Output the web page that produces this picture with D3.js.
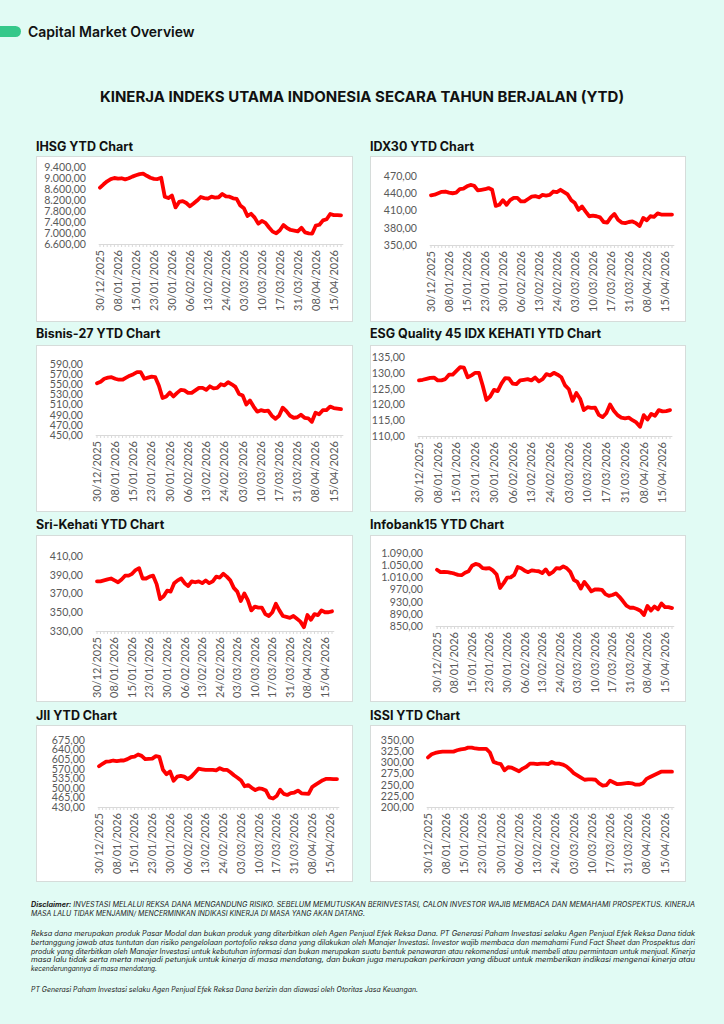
<!DOCTYPE html>
<html><head><meta charset="utf-8">
<script src="https://cdn.jsdelivr.net/npm/d3@7"></script>
<style>
html,body{margin:0;padding:0;background:#e1fbf4;}
svg{display:block}
</style></head><body>
<svg id="page" width="724" height="1024"></svg>
<script>
// ---------- DATA ----------
const dates = ["30/12/2025","02/01/2026","05/01/2026","06/01/2026","07/01/2026","08/01/2026","09/01/2026","12/01/2026","13/01/2026","14/01/2026",
"15/01/2026","19/01/2026","20/01/2026","21/01/2026","22/01/2026","23/01/2026","26/01/2026","27/01/2026","28/01/2026","29/01/2026",
"30/01/2026","02/02/2026","03/02/2026","04/02/2026","05/02/2026","06/02/2026","09/02/2026","10/02/2026","11/02/2026","12/02/2026",
"13/02/2026","18/02/2026","19/02/2026","20/02/2026","23/02/2026","24/02/2026","25/02/2026","26/02/2026","27/02/2026","02/03/2026",
"03/03/2026","04/03/2026","05/03/2026","06/03/2026","09/03/2026","10/03/2026","11/03/2026","12/03/2026","13/03/2026","16/03/2026",
"17/03/2026","25/03/2026","26/03/2026","27/03/2026","30/03/2026","31/03/2026","01/04/2026","02/04/2026","06/04/2026","07/04/2026",
"08/04/2026","09/04/2026","10/04/2026","13/04/2026","14/04/2026","15/04/2026","16/04/2026","17/04/2026"];

const ihsg = [8650,8770,8880,8960,9000,8980,8990,8950,8990,9050,9100,9140,9160,9080,9010,8970,8960,9010,8320,8270,
8360,7930,8130,8160,8090,7970,8070,8180,8310,8270,8250,8320,8290,8300,8420,8330,8320,8260,8240,8000,
7900,7620,7700,7560,7340,7440,7370,7200,7050,6990,7100,7290,7180,7110,7090,7060,7190,7020,6990,6980,
7270,7300,7460,7500,7690,7650,7650,7640];
const idx30 = [436.5,437.5,440,442.5,443,441,440,441,447,448,452,454.5,453,445,446,447,449,446,418,420,
428,420,428,432,432,426,426,430,434,435,433,437,436,437,443,442,446,442,438,428,
423,411,417,408,400,401,400,398,390,389,398,404,394,389,388,390,391,388,383,397,
393,400,399,405,403,403,403,403];
const bisnis27 = [552,555,561,563,564,561,559,559,563,567,570,574,574,561,563,565,564,547,523,526,
534,526,533,539,538,533,533,538,543,543,539,546,542,543,550,548,554,550,545,531,
528,510,518,506,496,499,497,498,488,482,488,504,497,488,484,485,490,484,483,476,
494,491,499,499,506,503,502,501];
const esgq45 = [127.6,127.8,128.1,128.4,128.5,127.6,127.6,128.0,129.4,129.4,130.6,131.8,131.6,128.6,129.2,130.0,130.0,126.0,121.4,122.5,
124.6,124.2,126.6,128.3,128.2,126.6,126.4,127.6,127.8,128.0,127.6,128.5,127.3,128.0,129.6,129.2,130.0,129.4,128.6,126.0,
124.8,121.1,123.6,121.8,118.2,119.1,118.9,119.0,116.7,116.0,117.2,120.0,118.0,116.6,115.8,115.6,115.8,115.0,114.3,112.9,
116.6,115.2,117.0,116.4,118.2,117.8,117.9,118.2];
const sriKehati = [383,383,384,385,386,384,382,385,389,389,391,395,397,386,386,388,389,380,364,367,
373,372,381,384,386,381,378,383,382,383,381,384,381,383,388,387,391,388,384,376,
372,362,370,363,352,356,355,355,348,346,350,359,352,346,345,344,346,343,340,334,
347,342,348,347,352,350,350,351];
const infobank15 = [1035,1027,1028,1027,1025,1022,1018,1017,1025,1030,1048,1054,1051,1040,1039,1040,1032,1019,975,991,
1009,1010,1018,1044,1040,1032,1027,1033,1031,1030,1024,1036,1020,1027,1040,1039,1046,1040,1028,1002,
995,973,995,980,964,970,970,969,955,949,952,957,946,932,917,910,910,906,900,886,
916,901,914,905,924,912,912,909];
const jii = [579,588,596,597,600,598,600,600,605,612,614,622,617,605,606,607,616,613,566,550,
560,526,541,544,541,532,541,555,570,568,566,566,566,564,572,566,566,557,546,537,
527,506,510,500,492,498,496,490,465,461,470,493,478,474,481,483,490,480,479,478,
503,512,520,528,533,533,532,532];
const issi = [311,318,321,323,324,324,324,324,327,329,330,333,333,331,330,330,330,322,301,298,
296,282,289,288,284,280,286,290,297,297,296,297,297,296,301,297,297,295,291,284,
276,271,266,261,262,262,261,253,248,249,259,255,251,252,253,254,253,250,250,253,
263,267,271,275,279,279,279,279];

const ihsgTicks = [6600,7000,7400,7800,8200,8600,9000,9400];
const idx30Ticks = [350,380,410,440,470];
const bisnis27Ticks = [450,470,490,510,530,550,570,590];
const esgq45Ticks = [110,115,120,125,130,135];
const sriKehatiTicks = [330,350,370,390,410];
const infobank15Ticks = [850,890,930,970,1010,1050,1090];
const jiiTicks = [430,465,500,535,570,605,640,675];
const issiTicks = [200,225,250,275,300,325,350];

const titles = ["IHSG YTD Chart","IDX30 YTD Chart","Bisnis-27 YTD Chart","ESG Quality 45 IDX KEHATI YTD Chart",
"Sri-Kehati YTD Chart","Infobank15 YTD Chart","JII YTD Chart","ISSI YTD Chart"];

// ---------- LAYOUT ----------
const charts = [
 {title:titles[0], values:ihsg, ticks:ihsgTicks, px:36, py:156, pw:316, ph:165, ty:151, x0:100, x1:341, y0:167, y1:244},
 {title:titles[1], values:idx30, ticks:idx30Ticks, px:370, py:156, pw:315, ph:165, ty:151, x0:431, x1:672, y0:176, y1:245},
 {title:titles[2], values:bisnis27, ticks:bisnis27Ticks, px:36, py:345, pw:316, ph:166, ty:338, x0:97, x1:341, y0:364, y1:435},
 {title:titles[3], values:esgq45, ticks:esgq45Ticks, px:370, py:345, pw:315, ph:166, ty:338, x0:419, x1:670, y0:357, y1:436},
 {title:titles[4], values:sriKehati, ticks:sriKehatiTicks, px:36, py:535, pw:316, ph:166, ty:529, x0:97, x1:332, y0:556, y1:631},
 {title:titles[5], values:infobank15, ticks:infobank15Ticks, px:370, py:535, pw:315, ph:166, ty:529, x0:437, x1:672, y0:553, y1:626},
 {title:titles[6], values:jii, ticks:jiiTicks, px:36, py:725, pw:316, ph:156, ty:720, x0:99, x1:337, y0:740, y1:807},
 {title:titles[7], values:issi, ticks:issiTicks, px:370, py:725, pw:315, ph:156, ty:720, x0:428, x1:672, y0:740, y1:807}
];

const loc = d3.formatLocale({decimal:",", thousands:".", grouping:[3], currency:["Rp",""]});
const fmt = loc.format(",.2f");

const svg = d3.select("#page");
svg.append("rect").attr("width",724).attr("height",1024).attr("fill","#e1fbf4");

// header
svg.append("rect").attr("x",-12).attr("y",26).attr("width",33).attr("height",11).attr("rx",5.5).attr("fill","#35c88a");
svg.append("text").attr("x",28).attr("y",36.5).text("Capital Market Overview")
  .attr("font-family","Inter, 'Noto Sans', sans-serif").attr("font-weight",600).attr("font-size",14).attr("fill","#111");
svg.append("text").attr("x",362).attr("y",101.5).attr("text-anchor","middle")
  .text("KINERJA INDEKS UTAMA INDONESIA SECARA TAHUN BERJALAN (YTD)")
  .attr("font-family","Inter, 'Noto Sans', sans-serif").attr("font-weight",700).attr("font-size",15).attr("fill","#111");

const labelFont = "Lato, 'Liberation Sans', sans-serif";

charts.forEach(c => {
  const g = svg.append("g");
  g.append("rect").attr("x",c.px+0.5).attr("y",c.py+0.5).attr("width",c.pw).attr("height",c.ph)
    .attr("fill","#ffffff").attr("stroke","#d6dcda").attr("stroke-width",1);
  g.append("text").attr("x",c.px).attr("y",c.ty).text(c.title)
    .attr("font-family","Inter, 'Noto Sans', sans-serif").attr("font-weight",700).attr("font-size",12.5).attr("fill","#111");

  const n = c.values.length;
  const step = (c.x1 - c.x0)/(n-1);
  const x = d3.scaleBand().domain(dates).range([c.x0 - step/2, c.x1 + step/2]).paddingInner(0).paddingOuter(0);
  const cx = d => x(d) + x.bandwidth()/2;
  const y = d3.scaleLinear().domain([c.ticks[0], c.ticks[c.ticks.length-1]]).range([c.y1, c.y0]);

  // y axis labels
  const ya = d3.axisLeft(y).tickValues(c.ticks).tickFormat(fmt).tickSize(0).tickPadding(0);
  const yg = g.append("g").attr("transform",`translate(${c.x0-14},0)`).call(ya);
  yg.select(".domain").remove();
  yg.selectAll("text").attr("font-family",labelFont).attr("font-size",10.6).attr("fill","#595959");

  // category axis
  const xa = d3.axisBottom(x).tickSize(3).tickSizeOuter(0).tickFormat("");
  const xg = g.append("g").attr("transform",`translate(0,${c.y1})`).call(xa);
  xg.select(".domain").attr("stroke","#d9d9d9");
  xg.selectAll(".tick line").attr("stroke","#d9d9d9");

  g.selectAll(".xl").data(dates.filter((d,i)=>i%5===0)).join("text")
    .attr("class","xl")
    .attr("transform", d=>`translate(${cx(d)},${c.y1+6}) rotate(-90)`)
    .attr("dy","0.35em").attr("text-anchor","end")
    .attr("font-family",labelFont).attr("font-size",11).attr("fill","#595959")
    .text(d=>d);

  const line = d3.line().x((d,i)=>cx(dates[i])).y(d=>y(d));
  g.append("path").datum(c.values).attr("d",line)
    .attr("fill","none").attr("stroke","#ff0000").attr("stroke-width",3.8)
    .attr("stroke-linejoin","round").attr("stroke-linecap","round");
});

// disclaimer
const discLines = [
 {y:907, w:664, parts:[["Disclaimer:",700],[" INVESTASI MELALUI REKSA DANA MENGANDUNG RISIKO. SEBELUM MEMUTUSKAN BERINVESTASI, CALON INVESTOR WAJIB MEMBACA DAN MEMAHAMI PROSPEKTUS. KINERJA",400]]},
 {y:916, w:334, parts:[["MASA LALU TIDAK MENJAMIN/ MENCERMINKAN INDIKASI KINERJA DI MASA YANG AKAN DATANG.",400]]},
 {y:936, w:664, parts:[["Reksa dana merupakan produk Pasar Modal dan bukan produk yang diterbitkan oleh Agen Penjual Efek Reksa Dana. PT Generasi Paham Investasi selaku Agen Penjual Efek Reksa Dana tidak",400]]},
 {y:945, w:664, parts:[["bertanggung jawab atas tuntutan dan risiko pengelolaan portofolio reksa dana yang dilakukan oleh Manajer Investasi. Investor wajib membaca dan memahami Fund Fact Sheet dan Prospektus dari",400]]},
 {y:953.5, w:664, parts:[["produk yang diterbitkan oleh Manajer Investasi untuk kebutuhan informasi dan bukan merupakan suatu bentuk penawaran atau rekomendasi untuk membeli atau permintaan untuk menjual. Kinerja",400]]},
 {y:962, w:664, parts:[["masa lalu tidak serta merta menjadi petunjuk untuk kinerja di masa mendatang, dan bukan juga merupakan perkiraan yang dibuat untuk memberikan indikasi mengenai kinerja atau",400]]},
 {y:970.5, w:126, parts:[["kecenderungannya di masa mendatang.",400]]},
 {y:991.5, w:387, parts:[["PT Generasi Paham Investasi selaku Agen Penjual Efek Reksa Dana berizin dan diawasi oleh Otoritas Jasa Keuangan.",400]]}
];
discLines.forEach(l => {
  const t = svg.append("text").attr("x",31).attr("y",l.y)
    .attr("font-family","Inter, 'Noto Sans', sans-serif").attr("font-style","italic").attr("font-size",7.2).attr("fill","#222")
    .attr("textLength",l.w).attr("lengthAdjust","spacingAndGlyphs");
  l.parts.forEach(p => t.append("tspan").attr("font-weight",p[1]).text(p[0]));
});
</script>
</body></html>
